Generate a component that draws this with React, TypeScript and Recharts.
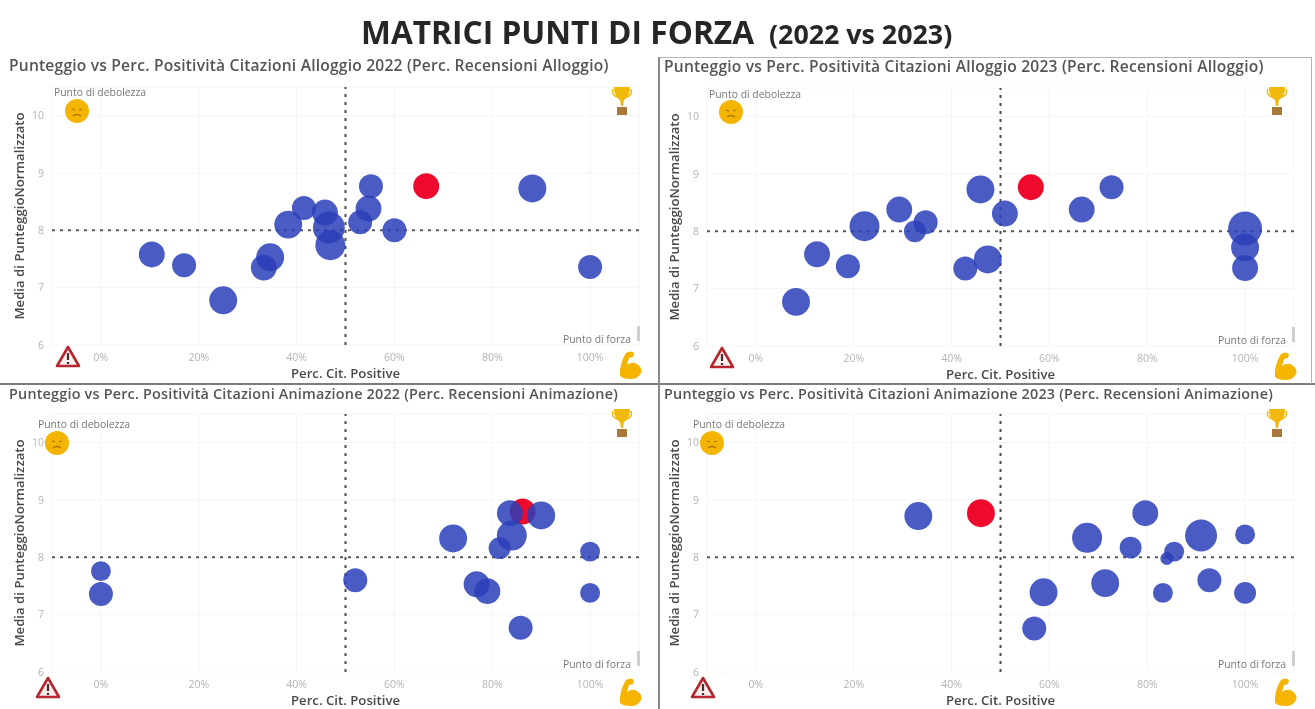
import React from "react";
import {
  ScatterChart,
  Scatter,
  XAxis,
  YAxis,
  ZAxis,
  CartesianGrid,
  ReferenceLine,
} from "recharts";

// x = Perc. Cit. Positive, y = Media di PunteggioNormalizzato, z = Perc. Recensioni
const alloggio22X = [10.4, 17, 25, 33.3, 34.6, 38.3, 41.5, 45.8, 46.6, 46.9, 53, 54.7, 55.2, 60, 88.2, 100];
const alloggio22Y = [7.58, 7.39, 6.78, 7.35, 7.53, 8.1, 8.39, 8.31, 8.05, 7.74, 8.14, 8.38, 8.77, 8.0, 8.73, 7.36];
const alloggio22Z = [56, 48, 65, 56, 65, 65, 48, 56, 85, 75, 48, 56, 48, 48, 65, 48];
const alloggio22Red = [66.5, 8.77, 56];

const alloggio23X = [8.2, 12.5, 18.8, 22.2, 29.3, 32.5, 34.7, 42.8, 47.4, 45.9, 50.9, 66.6, 72.7, 100, 100, 100];
const alloggio23Y = [6.77, 7.6, 7.39, 8.09, 8.38, 8.0, 8.16, 7.35, 7.51, 8.73, 8.31, 8.38, 8.77, 8.05, 7.72, 7.36];
const alloggio23Z = [65, 56, 48, 75, 56, 40, 48, 48, 65, 65, 56, 56, 48, 96, 65, 56];
const alloggio23Red = [56.2, 8.77, 56];

const animazione22X = [0, 0, 52, 72, 76.8, 79, 81.5, 83.6, 84, 85.8, 90, 100, 100];
const animazione22Y = [7.76, 7.36, 7.6, 8.33, 7.53, 7.41, 8.16, 8.77, 8.38, 6.77, 8.73, 8.1, 7.38];
const animazione22Z = [33, 48, 48, 65, 56, 56, 40, 56, 75, 48, 65, 33, 33];
const animazione22Red = [86.2, 8.8, 56];

const animazione23X = [33.2, 56.9, 58.8, 67.7, 71.4, 76.6, 79.6, 83.2, 84, 85.5, 91, 92.7, 100, 100];
const animazione23Y = [8.72, 6.76, 7.39, 8.34, 7.55, 8.17, 8.77, 7.38, 7.98, 8.1, 8.38, 7.6, 7.38, 8.4];
const animazione23Z = [65, 48, 65, 75, 65, 40, 56, 33, 14, 33, 85, 48, 40, 33];
const animazione23Red = [46, 8.77, 65];

const xTicks = [0, 20, 40, 60, 80, 100];
const yTicks = [6, 7, 8, 9, 10];

const toPoints = (xs: number[], ys: number[], zs: number[]) =>
  xs.map((x, i) => ({ x, y: ys[i], z: zs[i] }));
const toRed = (r: number[]) => [{ x: r[0], y: r[1], z: r[2] }];

const abs = (left: number, top: number): React.CSSProperties => ({ position: "absolute", left, top });
const font = "'Open Sans', sans-serif";

const Sad = ({ left, top }: any) => (
  <svg style={abs(left, top)} width="26" height="26" viewBox="0 0 26 26">
    <circle cx="13" cy="13" r="12" fill="#f4b400" />
    <path d="M8 11 l3 1 M18 11 l-3 1" stroke="#a87400" strokeWidth="1.3" />
    <path d="M9 18 q4 -3 8 0" stroke="#a87400" strokeWidth="1.3" fill="none" />
  </svg>
);

const Trophy = ({ left, top }: any) => (
  <svg style={abs(left, top)} width="24" height="32" viewBox="0 0 24 32">
    <path d="M4 1 h16 q0 10 -6 13 l-1 6 h-2 l-1 -6 q-6 -3 -6 -13z" fill="#f0b90b" />
    <path d="M3 3 q-2 6 4 8 M21 3 q2 6 -4 8" stroke="#f0b90b" strokeWidth="1.5" fill="none" />
    <rect x="7" y="21" width="10" height="8" fill="#a9783c" />
  </svg>
);

const Warning = ({ left, top }: any) => (
  <svg style={abs(left, top)} width="26" height="24" viewBox="0 0 26 24">
    <path d="M13 3 L24 22 H2 Z" fill="#fbeeee" stroke="#b5262e" strokeWidth="2.6" strokeLinejoin="round" />
    <path d="M13 9 V16 M13 18 V20" stroke="#4a2a2a" strokeWidth="2.2" />
  </svg>
);

const Muscle = ({ left, top }: any) => (
  <svg style={abs(left, top)} width="26" height="30" viewBox="0 0 26 30">
    <path
      d="M9 3 q5 -3 8 0 l-1 4 l-4 1 l-2 7 q5 -4 10 -1 q6 4 4 9 q-3 6 -10 6 q-8 0 -11 -3 q-1 -12 6 -23z"
      fill="#f4b400"
    />
  </svg>
);

const noteStyle: React.CSSProperties = {
  fontFamily: font,
  fontSize: 10.4,
  color: "#777777",
  whiteSpace: "nowrap",
  lineHeight: "12px",
};

function Panel({ left, top, titleTop, titleSize, tickMargin, labelOffset, title, blue, red, faceLeft, faceTop, warnLeft, warnTop, weakLeft, weakTop, strongTop, trophyTop, muscleTop }: any) {
  return (
    <>
      <div style={abs(left, top)}>
        <ScatterChart
          width={655}
          height={326}
          margin={{ top: 30, right: 16, bottom: 0, left: 8 }}
        >
          <CartesianGrid stroke="#f5f5f5" />
          <XAxis
            dataKey="x"
            type="number"
            domain={[-10, 110]}
            ticks={xTicks}
            tickFormatter={(v: number) => `${v}%`}
            axisLine={false}
            tickLine={false}
            tickMargin={tickMargin}
            height={38}
            tick={{ fill: "#b4b4b4", fontSize: 10.5, fontFamily: font }}
            label={{
              value: "Perc. Cit. Positive",
              position: "insideBottom",
              offset: labelOffset,
              fill: "#4a4a4a",
              fontSize: 13.2,
              fontWeight: 600,
              fontFamily: font,
            }}
          />
          <YAxis
            dataKey="y"
            type="number"
            domain={[6, 10.5]}
            ticks={yTicks}
            axisLine={false}
            tickLine={false}
            tickMargin={2}
            width={44}
            tick={{ fill: "#b4b4b4", fontSize: 10.5, fontFamily: font }}
            label={{
              value: "Media di PunteggioNormalizzato",
              angle: -90,
              position: "insideLeft",
              offset: 11,
              fill: "#4a4a4a",
              fontSize: 13.2,
              fontWeight: 600,
              fontFamily: font,
              style: { textAnchor: "middle" },
            }}
          />
          <ZAxis dataKey="z" type="number" domain={[0, 100]} range={[0, 942]} />
          <ReferenceLine x={50} stroke="#4c4c4c" strokeWidth={2} strokeDasharray="3 5" />
          <ReferenceLine y={8} stroke="#5a5a5a" strokeWidth={2} strokeDasharray="3 5" />
          <Scatter data={red} fill="#ee0a2c" isAnimationActive={false} />
          <Scatter data={blue} fill="#2a3eb8" fillOpacity={0.85} isAnimationActive={false} />
        </ScatterChart>
      </div>
      <div
        style={{
          ...abs(left + 9, titleTop),
          fontFamily: font,
          fontSize: titleSize,
          letterSpacing: 0.2,
          fontWeight: 600,
          color: "#555555",
          whiteSpace: "nowrap",
          lineHeight: "16px",
        }}
      >
        {title}
      </div>
      <div style={{ ...abs(left + weakLeft, weakTop), ...noteStyle }}>Punto di debolezza</div>
      <div style={{ ...abs(left + 563, strongTop), ...noteStyle }}>Punto di forza</div>
      <div style={{ ...abs(left + 637, strongTop - 7), width: 3, height: 15, background: "#cfcfcf" }} />
      <Sad left={left + faceLeft} top={faceTop} />
      <Trophy left={left + 610} top={trophyTop} />
      <Warning left={left + warnLeft} top={warnTop} />
      <Muscle left={left + 617} top={muscleTop} />
    </>
  );
}

const rule = (left: number, top: number, width: number, height: number, background: string): React.CSSProperties => ({
  position: "absolute",
  left,
  top,
  width,
  height,
  background,
});

export default function App() {
  return (
    <div
      style={{
        position: "absolute",
        left: 0,
        top: 0,
        width: 1315,
        height: 709,
        overflow: "hidden",
        background: "#ffffff",
        filter: "blur(0.7px)",
      }}
    >
      <div
        style={{
          position: "absolute",
          left: 361,
          top: 11,
          whiteSpace: "nowrap",
          fontFamily: font,
          fontWeight: 700,
          color: "#262626",
          fontSize: 31.7,
          lineHeight: "42px",
        }}
      >
        MATRICI PUNTI DI FORZA<span style={{ fontSize: 26.8, marginLeft: 15 }}>(2022 vs 2023)</span>
      </div>

      <Panel
        left={0} top={57} titleTop={57} titleSize={15.6} tickMargin={3} labelOffset={5}
        title="Punteggio vs Perc. Positività Citazioni Alloggio 2022 (Perc. Recensioni Alloggio)"
        blue={toPoints(alloggio22X, alloggio22Y, alloggio22Z)} red={toRed(alloggio22Red)}
        faceLeft={64} faceTop={98} warnLeft={55} warnTop={344} weakLeft={54} weakTop={86} strongTop={333}
        trophyTop={86} muscleTop={350}
      />
      <Panel
        left={655} top={58} titleTop={58} titleSize={15.6} tickMargin={3} labelOffset={5}
        title="Punteggio vs Perc. Positività Citazioni Alloggio 2023 (Perc. Recensioni Alloggio)"
        blue={toPoints(alloggio23X, alloggio23Y, alloggio23Z)} red={toRed(alloggio23Red)}
        faceLeft={63} faceTop={99} warnLeft={54} warnTop={345} weakLeft={54} weakTop={88} strongTop={334}
        trophyTop={86} muscleTop={351}
      />
      <Panel
        left={0} top={384} titleTop={386} titleSize={14.4} tickMargin={3} labelOffset={5}
        title="Punteggio vs Perc. Positività Citazioni Animazione 2022 (Perc. Recensioni Animazione)"
        blue={toPoints(animazione22X, animazione22Y, animazione22Z)} red={toRed(animazione22Red)}
        faceLeft={44} faceTop={430} warnLeft={35} warnTop={675} weakLeft={38} weakTop={418} strongTop={658}
        trophyTop={408} muscleTop={677}
      />
      <Panel
        left={655} top={384} titleTop={386} titleSize={14.4} tickMargin={3} labelOffset={5}
        title="Punteggio vs Perc. Positività Citazioni Animazione 2023 (Perc. Recensioni Animazione)"
        blue={toPoints(animazione23X, animazione23Y, animazione23Z)} red={toRed(animazione23Red)}
        faceLeft={44} faceTop={430} warnLeft={35} warnTop={675} weakLeft={38} weakTop={418} strongTop={658}
        trophyTop={408} muscleTop={677}
      />

      <div style={rule(0, 383, 1315, 2, "#7c7c7c")} />
      <div style={rule(658, 57, 2, 652, "#8a8a8a")} />
      <div style={rule(660, 57, 652, 1, "#b5b5b5")} />
      <div style={rule(1311, 57, 1, 327, "#b5b5b5")} />
    </div>
  );
}
